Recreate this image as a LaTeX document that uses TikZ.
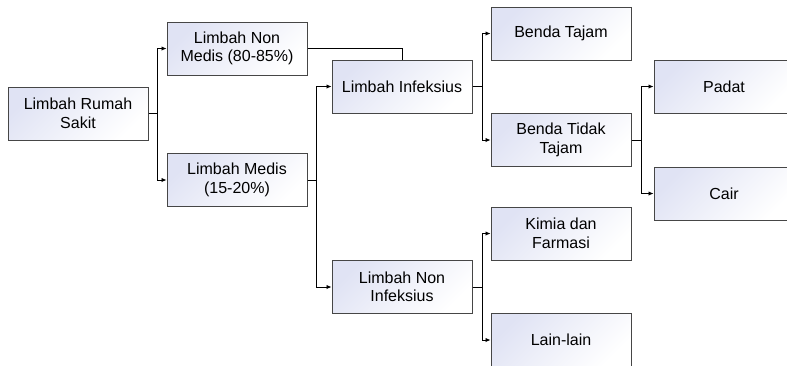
\documentclass[tikz,border=0pt]{standalone}
\usepackage{fontspec}
\setmainfont{Liberation Sans}
\usetikzlibrary{arrows.meta}
\definecolor{boxl}{RGB}{224,227,244}
\definecolor{boxd}{RGB}{70,70,70}
\tikzset{
  box/.style={rectangle, draw=boxd, line width=1pt, top color=boxl, bottom color=white, shading angle=45,
    minimum width=140pt, minimum height=53pt, inner sep=0pt, align=center,
    font=\fontsize{16}{18.5}\selectfont},
  conn/.style={draw=black, line width=0.9pt},
  arr/.style={conn, -{Latex[length=5pt,width=4.5pt]}}
}
\begin{document}
\begin{tikzpicture}[x=1pt,y=-1pt]
\clip (0,0) rectangle (787,365);
\fill[white] (0,0) rectangle (787,365);
\node[box] (rs) at (78,113.5) {Limbah Rumah\\Sakit};
\node[box] (nm) at (237,48.5) {Limbah Non\\Medis (80-85\%)};
\node[box] (md) at (237,180) {Limbah Medis\\(15-20\%)};
\node[box] (inf) at (402,86.5) {Limbah Infeksius};
\node[box] (ninf) at (402,287) {Limbah Non\\Infeksius};
\node[box] (bt) at (561,33.5) {Benda Tajam};
\node[box] (btt) at (561,140) {Benda Tidak\\Tajam};
\node[box] (pd) at (724,86.5) {Padat};
\node[box] (cr) at (724,193.5) {Cair};
\node[box] (kf) at (561,233.5) {Kimia dan\\Farmasi};
\node[box] (ll) at (561,340) {Lain-lain};
\draw[arr] (rs.east) -- ++(9,0) |- (nm.west);
\draw[arr] (rs.east) -- ++(9,0) |- (md.west);
\draw[conn] (nm.east) -| (inf.north);
\draw[arr] (md.east) -- ++(9,0) |- (inf.west);
\draw[arr] (md.east) -- ++(9,0) |- (ninf.west);
\draw[arr] (inf.east) -- ++(10,0) |- (bt.west);
\draw[arr] (inf.east) -- ++(10,0) |- (btt.west);
\draw[arr] (btt.east) -- ++(10,0) |- (pd.west);
\draw[arr] (btt.east) -- ++(10,0) |- (cr.west);
\draw[arr] (ninf.east) -- ++(10,0) |- (kf.west);
\draw[arr] (ninf.east) -- ++(10,0) |- (ll.west);
\end{tikzpicture}
\end{document}
